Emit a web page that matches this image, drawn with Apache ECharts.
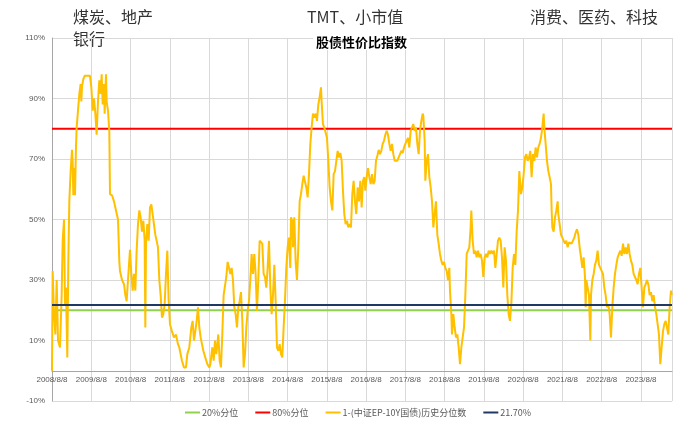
<!DOCTYPE html>
<html><head><meta charset="utf-8">
<script src="https://cdn.jsdelivr.net/npm/echarts@6/dist/echarts.min.js"></script>
<style>html,body{margin:0;padding:0;background:#fff}#c{width:700px;height:426px}</style>
</head><body><div id="c"></div>
<script>
// x axis origin: 2008/8/8 expressed as decimal year
const originYear = 2008;
const originDecimal = 2008.6;
const xMaxYears = 15.79;
const yMin = -10, yMax = 110, yStep = 20;

const seriesNames = ['20%分位', '80%分位', '1-(中证EP-10Y国债)历史分位数', '21.70%'];
const level20 = 20, level80 = 80, levelCurrent = 21.7;

const annotations = ['煤炭、地产', '银行', 'TMT、小市值', '消费、医药、科技'];
const titleText = '股债性价比指数';

// decimal-year dates of the percentile series
const dates = [
2008.600,2008.617,2008.651,2008.685,2008.719,2008.753,2008.804,2008.846,2008.872,2008.906,
2008.931,2008.956,2008.990,2009.016,2009.041,2009.075,2009.109,2009.126,2009.143,2009.160,
2009.186,2009.211,2009.228,2009.262,2009.296,2009.330,2009.347,2009.364,2009.398,2009.432,
2009.568,2009.602,2009.636,2009.670,2009.704,2009.737,2009.771,2009.805,2009.839,2009.865,
2009.890,2009.924,2009.941,2009.975,2009.992,2010.026,2010.060,2010.077,2010.128,2010.179,
2010.230,2010.281,2010.315,2010.332,2010.383,2010.434,2010.468,2010.501,2010.535,2010.586,
2010.620,2010.654,2010.688,2010.722,2010.756,2010.790,2010.824,2010.858,2010.892,2010.926,
2010.960,2010.977,2010.994,2011.028,2011.062,2011.096,2011.130,2011.163,2011.197,2011.231,
2011.265,2011.299,2011.333,2011.367,2011.401,2011.435,2011.469,2011.503,2011.537,2011.571,
2011.605,2011.656,2011.706,2011.757,2011.808,2011.842,2011.876,2011.910,2011.961,2012.012,
2012.046,2012.097,2012.148,2012.182,2012.216,2012.250,2012.284,2012.318,2012.352,2012.386,
2012.420,2012.454,2012.505,2012.556,2012.607,
2012.632,2012.683,2012.717,2012.751,2012.785,2012.836,2012.870,2012.903,2012.937,2012.971,
2013.005,2013.039,2013.073,2013.107,2013.141,2013.175,2013.209,2013.243,2013.277,2013.311,
2013.345,2013.379,2013.413,2013.447,2013.481,2013.515,2013.549,2013.583,2013.617,2013.650,
2013.684,2013.718,2013.752,2013.786,2013.820,2013.854,2013.888,2013.922,2013.956,2013.990,
2014.024,2014.058,2014.092,2014.126,2014.160,2014.194,2014.228,2014.262,2014.296,2014.330,
2014.364,2014.398,2014.432,2014.465,2014.499,2014.533,2014.567,2014.601,2014.635,2014.669,
2014.686,2014.720,2014.737,2014.771,2014.805,2014.839,2014.873,2014.907,2014.941,2014.975,
2015.009,2015.043,2015.077,2015.111,2015.145,2015.179,2015.212,2015.246,2015.280,2015.314,
2015.348,2015.382,2015.416,2015.450,2015.467,2015.501,2015.535,2015.569,2015.603,2015.637,
2015.671,2015.705,2015.739,2015.773,2015.807,2015.841,2015.875,2015.909,2015.943,2015.977,
2016.010,2016.044,2016.078,2016.112,2016.146,2016.180,2016.214,2016.248,2016.282,2016.316,
2016.350,2016.384,2016.418,2016.452,2016.486,2016.520,2016.554,
2016.580,2016.614,2016.648,2016.682,2016.716,2016.750,2016.784,2016.818,2016.851,2016.885,
2016.919,2016.953,2016.987,2017.021,2017.055,2017.089,2017.123,2017.157,2017.191,2017.225,
2017.259,2017.293,2017.327,2017.361,2017.395,2017.429,2017.463,2017.497,2017.531,2017.565,
2017.598,2017.632,2017.666,2017.700,2017.734,2017.768,2017.802,2017.836,2017.870,2017.904,
2017.938,2017.972,2018.006,2018.040,2018.057,2018.091,2018.108,2018.142,2018.176,2018.210,
2018.244,2018.278,2018.312,2018.345,2018.379,2018.413,2018.447,2018.481,2018.515,2018.549,
2018.583,2018.617,2018.651,2018.685,2018.719,2018.736,2018.770,2018.787,2018.821,2018.855,
2018.889,2018.923,2018.957,2018.991,2019.025,2019.059,2019.093,2019.127,2019.161,2019.194,
2019.228,2019.262,2019.279,2019.313,2019.347,2019.381,2019.415,2019.449,2019.483,2019.517,
2019.551,2019.585,2019.619,2019.653,2019.687,2019.721,2019.755,2019.789,2019.823,2019.857,
2019.891,2019.925,2019.958,2019.992,2020.026,2020.060,2020.094,2020.128,2020.162,2020.196,
2020.230,2020.264,2020.298,2020.332,2020.366,2020.400,2020.434,2020.468,2020.502,
2020.527,2020.544,2020.578,2020.612,2020.646,2020.680,2020.714,2020.748,2020.781,2020.815,
2020.849,2020.883,2020.917,2020.951,2020.985,2021.019,2021.053,2021.087,2021.121,2021.138,
2021.172,2021.206,2021.240,2021.274,2021.308,2021.325,2021.342,2021.376,2021.410,2021.444,
2021.478,2021.495,2021.528,2021.562,2021.596,2021.630,2021.664,2021.698,2021.732,2021.766,
2021.800,2021.834,2021.868,2021.902,2021.936,2021.970,2022.004,2022.038,2022.072,2022.106,
2022.140,2022.174,2022.191,2022.208,2022.242,2022.276,2022.310,2022.327,2022.361,2022.395,
2022.428,2022.462,2022.496,2022.530,2022.564,2022.598,2022.632,2022.666,2022.700,2022.734,
2022.768,2022.802,2022.836,2022.870,2022.904,2022.938,2022.972,2023.006,2023.040,2023.074,
2023.108,2023.142,2023.176,2023.210,2023.244,2023.278,2023.311,2023.345,2023.379,2023.413,
2023.447,2023.481,2023.515,2023.549,2023.583,2023.617,2023.651,2023.685,2023.719,2023.753,
2023.787,2023.821,2023.855,2023.889,2023.923,2023.957,2023.991,2024.024,2024.058,2024.092,
2024.126,2024.160,2024.194,2024.228,2024.262,2024.296,2024.330,2024.364,2024.381
];

// 1-(中证EP-10Y国债) historical percentile, %
const values = [
0,33,18.7,12,30,10,7.7,25,43,50,
22,27.5,4.4,36,56,66,73,69,58,67,
58,74,80.4,86,91.5,94.8,89,94,96.4,97.5,
97.5,93.7,86,90,85,78,89,96,91.5,98,
88,94.8,85,98,89,86,79,58.4,58,56,
53,50,36,33,30,28.6,25,23,30,40,
32,26.5,32,26.5,39.7,48.5,53,50.7,46,49.6,
43,14.3,42,48.5,43,54,55,51.8,52,45,
43,40.8,30,25,17.6,18.7,22,32,39.7,23,
15.4,13,11,12,8.8,7.7,5.5,3.3,1.1,1.1,
5.5,7.7,14.3,16.5,10,13,16.5,21,14.3,11,
8.8,6.6,4.4,2.2,1.1,
2.2,7.7,3.3,10,5.5,12,3.3,1.1,12,25,
25,31,36,34,32,34,30,21,18.7,14.3,
21,23,26,16.5,1.1,5.5,14.3,19.8,23,30,
38.6,32,38.6,32,19.8,30,43,43,42,32,
31,27.5,34,43,27.5,18.7,25,35,23,7.7,
6.6,8.8,5.5,4.4,14.3,23,34,40.8,44,34,
50.7,49.6,40.8,50.7,36,30,40.8,56,58.4,61.7,
64.5,64,60.6,57.3,65,75,80.4,85,83.7,85,
82.6,88,90.4,93.7,89,81.5,80.4,81,77,69.4,
60.6,56,53,65,66,69.4,72.7,70.5,72,69.4,
59.5,51.8,48.5,49.6,47.4,48.5,47.4,58.4,62.8,56,
51.8,60.6,56,62.8,54,62.8,64,
59.5,64,67,64,61.7,65,61.7,62.8,69.4,71,
73,71.6,72.7,75,76,78,79.3,78,75,72.7,
75,71.6,69.4,68.9,69.4,70.5,71,72.7,72,73.8,
75,76,77,73.8,79.3,80.4,81.5,79.3,80.4,75,
71.6,79.3,82.6,85,84.3,76,62.8,69.4,71.6,64,
60.6,56,47.4,51.8,56,45,42,38.6,36.4,35,
36,34,33,30,34,26.5,18.7,12,18.7,14.3,
11,12,7.7,2.2,7.7,11,14.3,25,38.6,39.7,
40.8,47.4,53,43,38.6,39.7,37.5,39.7,37.5,38.6,
36.4,31,37.5,38.6,37.5,39.7,38.6,39.7,38.6,39.7,
34,38.6,43,44,43,37.5,27.5,40.8,36.4,25,
18.7,16.5,22,34,38.6,35,46,53,66,
66,58.4,60.6,65,70.5,71.6,69.4,70.5,72.7,64,
71.6,69.4,73.8,70.5,73.8,75,77,80.4,85,80.4,
75,69.4,66,64,61.7,53,47.4,46,50.7,53,
56,51.8,48.5,45,44,43,42,43,40.8,42.4,
43,42,43,44,45.7,46.8,45,40.8,37.5,34,
37.5,31,21,30,27.5,25,10,25,30,32,
35,36.4,39.7,35,34,33,32,27.5,25,21,
22,18.7,11,21,27.5,32,35,37.5,38.6,39.7,
38,42,38.6,40.8,38.6,42,38.6,36.4,35,32,
31,30,28.6,32,34,27.5,21,27.5,28.6,30,
28.6,25,26,23,25,21,18.7,15.4,12,2.2,
7.7,13,15.4,16.5,14.3,12,21,26.5,25
];

const lineData = dates.map((d, i) => [d - originDecimal, values[i]]);
const flat = v => [[0, v], [xMaxYears, v]];

const chart = echarts.init(document.getElementById('c'), null, {renderer: 'canvas'});
const labelColor = '#595959';
const gridColor = '#D9D9D9';
const gridTop = 38, gridBottom = 25, chartH = 426;
const plotH = chartH - gridTop - gridBottom;
// lift the x axis (line + labels) from the bottom edge up to the 0% level
const zeroOffset = -plotH * (0 - yMin) / (yMax - yMin);

chart.setOption({
  animation: false,
  backgroundColor: '#fff',
  title: {
    text: titleText, left: 313, top: 35,
    padding: [1, 3], backgroundColor: '#fff',
    textStyle: {fontSize: 13, fontWeight: 'bold', color: '#000', fontFamily: 'Noto Sans CJK SC'}
  },
  grid: {left: 52, right: 28, top: gridTop, bottom: gridBottom, containLabel: false},
  xAxis: {
    type: 'value', min: 0, max: xMaxYears, interval: 1,
    offset: zeroOffset,
    axisLine: {onZero: false, lineStyle: {color: '#A6A6A6', width: 1}},
    axisTick: {show: false},
    splitLine: {show: true, lineStyle: {color: gridColor, width: 1}},
    axisLabel: {
      color: labelColor, fontSize: 8, fontFamily: 'Liberation Sans', margin: 5,
      showMaxLabel: false,
      formatter: v => (Math.abs(v - Math.round(v)) < 1e-6) ? (originYear + Math.round(v)) + '/8/8' : ''
    }
  },
  yAxis: {
    type: 'value', min: yMin, max: yMax, interval: yStep,
    axisLine: {show: true, lineStyle: {color: '#A6A6A6', width: 1}},
    axisTick: {show: false},
    splitLine: {show: true, lineStyle: {color: gridColor, width: 1}},
    axisLabel: {color: labelColor, fontSize: 8, fontFamily: 'Liberation Sans', margin: 7, formatter: v => v + '%'}
  },
  legend: {
    bottom: 4, left: 180, itemWidth: 15, itemHeight: 2, itemGap: 17, icon: 'rect',
    textStyle: {color: labelColor, fontSize: 9, fontFamily: 'Noto Sans CJK SC', padding: [0, 0, 0, -3]},
    data: seriesNames
  },
  series: [
    {name: seriesNames[0], type: 'line', data: flat(level20), showSymbol: false, lineStyle: {color: '#92D050', width: 2}, itemStyle: {color: '#92D050'}},
    {name: seriesNames[1], type: 'line', data: flat(level80), showSymbol: false, lineStyle: {color: '#FF0000', width: 2}, itemStyle: {color: '#FF0000'}},
    {name: seriesNames[2], type: 'line', data: lineData, showSymbol: false, lineStyle: {color: '#FFC000', width: 2}, itemStyle: {color: '#FFC000'}},
    {name: seriesNames[3], type: 'line', data: flat(levelCurrent), showSymbol: false, lineStyle: {color: '#203864', width: 2}, itemStyle: {color: '#203864'}}
  ],
  graphic: [
    {type: 'text', left: 73, top: 9, style: {text: annotations[0], fontSize: 16, fill: '#333', fontFamily: 'Noto Sans CJK SC'}},
    {type: 'text', left: 73, top: 31, style: {text: annotations[1], fontSize: 16, fill: '#333', fontFamily: 'Noto Sans CJK SC'}},
    {type: 'text', left: 307, top: 9, style: {text: annotations[2], fontSize: 16, fill: '#333', fontFamily: 'Noto Sans CJK SC'}},
    {type: 'text', left: 530, top: 9, style: {text: annotations[3], fontSize: 16, fill: '#333', fontFamily: 'Noto Sans CJK SC'}}
  ]
});
</script>
</body></html>
